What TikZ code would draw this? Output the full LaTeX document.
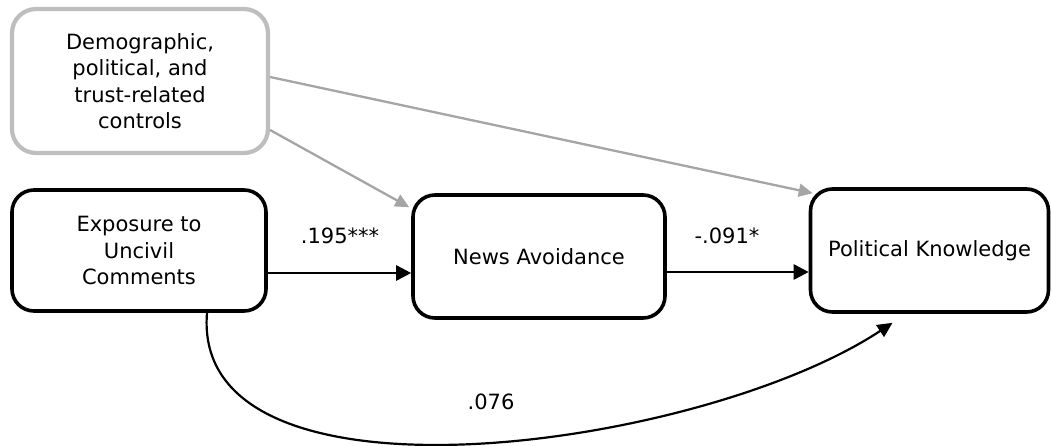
\documentclass[tikz,border=0pt]{standalone}
\usepackage{fontspec}
\setmainfont{DejaVu Sans}
\usetikzlibrary{arrows.meta}
\definecolor{boxgray}{RGB}{190,190,190}
\definecolor{arrgray}{RGB}{165,165,165}
\begin{document}
\begin{tikzpicture}[x=1pt,y=-1pt,
  every node/.style={font=\fontsize{21}{26.5}\selectfont, align=center, inner sep=0pt},
  bx/.style={draw=black, line width=3.6pt, rounded corners=22pt, fill=white},
  gbx/.style={draw=boxgray, line width=4.2pt, rounded corners=24pt, fill=white},
  arr/.style={line width=2.6pt, -{Triangle[length=15pt,width=15pt]}},
  carr/.style={line width=2.2pt, -{Triangle[length=15pt,width=14pt]}},
  garr/.style={draw=arrgray, line width=2.3pt, -{Triangle[length=14pt,width=13pt]}},
  lbl/.style={font=\fontsize{21}{25}\selectfont}]
\useasboundingbox (0,0) rectangle (1052,445);
\node[gbx, minimum width=256pt, minimum height=144pt] (ctrl) at (140,81) {Demographic,\\political, and\\trust-related\\controls};
\node[bx, minimum width=254pt, minimum height=121pt] (exp) at (139,250.5) {Exposure to\\Uncivil\\Comments};
\node[bx, minimum width=252pt, minimum height=123pt] (news) at (539,256.5) {News Avoidance};
\node[bx, minimum width=238pt, minimum height=123pt] (pk) at (929.5,250.5) {Political Knowledge};
\draw[arr] ([yshift=-22.5pt]exp.east) -- ([yshift=-16.5pt]news.west);
\draw[arr] ([yshift=-15.5pt]news.east) -- ([yshift=-21.5pt]pk.west);
\draw[garr] ([yshift=-49pt]ctrl.east) -- ([shift={(-2pt,-14pt)}]news.north west);
\draw[garr] ([yshift=4pt]ctrl.east) -- ([shift={(4pt,-6pt)}]pk.north west);
\draw[carr] ([xshift=68pt]exp.south) .. controls (190,520) and (700,450) .. ([shift={(-37pt,-9pt)}]pk.south);
\node[lbl] (l1) at (340,236) {.195***};
\node[lbl] (l2) at (727,236) {-.091*};
\node[lbl] (l3) at (491,402) {.076};
\end{tikzpicture}
\end{document}
